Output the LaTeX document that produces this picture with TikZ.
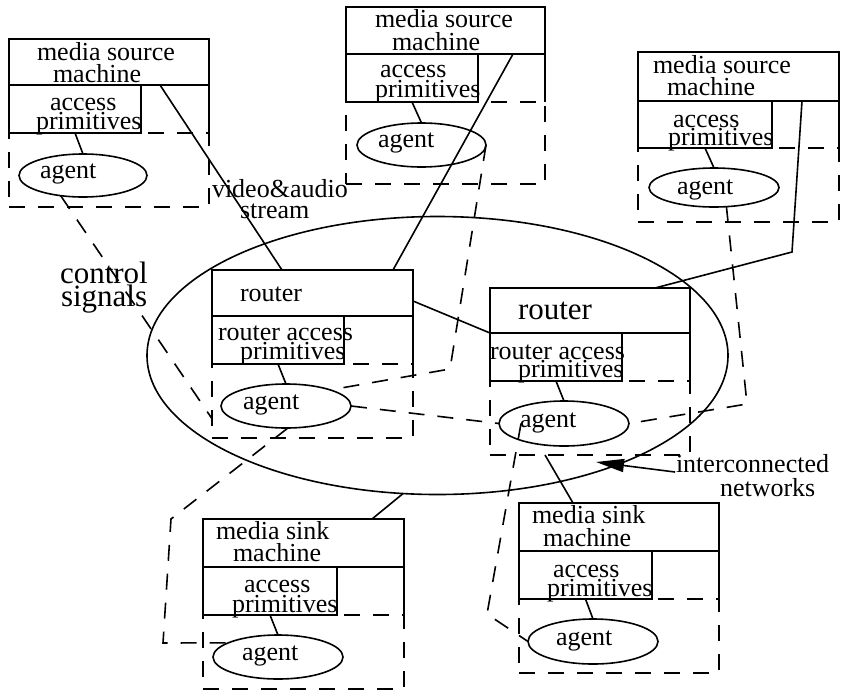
\documentclass[tikz,border=0pt]{standalone}
\usepackage{fontspec}
\setmainfont{Liberation Serif}
\usetikzlibrary{shapes.geometric,arrows.meta}
\newcommand\machineunit[8]{%
  \node[solidbox, minimum width=#4pt, minimum height=#5pt] (#1-m) at (#2,#3) {};
  \node[solidbox, minimum width=#6pt, minimum height=#7pt] (#1-p) at (#1-m.south west) {};
  \node[dashbox, minimum width=#4pt, minimum height=#8pt] (#1-d) at (#1-p.south west) {};
  \draw (#1-m.south east) -- (#1-d.north east);
}
\begin{document}
\begin{tikzpicture}[x=1pt,y=-1pt,line width=1.6pt,
  solidbox/.style={draw, rectangle, anchor=north west, inner sep=0pt, outer sep=0pt},
  dashbox/.style={draw, rectangle, anchor=north west, inner sep=0pt, outer sep=0pt, dash pattern=on 16pt off 13pt},
  agentell/.style={draw, ellipse, inner sep=0pt, outer sep=0pt},
  dashline/.style={dash pattern=on 16pt off 13pt},
  txt/.style={inner sep=0pt, outer sep=0pt, anchor=base west, font=\fontsize{26}{26}\selectfont},
  bigtxt/.style={txt, font=\fontsize{31}{31}\selectfont},
]
\fill[white] (0,0) rectangle (842,691);
\useasboundingbox (0,0) rectangle (842,691);

% network ellipse
\node[draw, ellipse, minimum width=581pt, minimum height=278pt, inner sep=0pt, outer sep=0pt] (net) at (437.5,355.5) {};

% units
\machineunit{tl}{9}{39}{200}{46}{132}{48}{74}
\node[agentell, minimum width=128pt, minimum height=43pt] (tl-a) at (83,175.5) {};
\draw (tl-p.south) -- (tl-a.north);

\machineunit{tm}{346}{7}{199}{47}{132}{48}{82}
\node[agentell, minimum width=129pt, minimum height=44pt] (tm-a) at (421.5,145) {};
\draw (tm-p.south) -- (tm-a.north);

\machineunit{tr}{638}{52}{201}{49}{134}{47}{74}
\node[agentell, minimum width=130pt, minimum height=39pt] (tr-a) at (714,187.5) {};
\draw (tr-p.south) -- (tr-a.north);

\machineunit{lr}{212}{270}{201}{46}{132}{48}{74}
\node[agentell, minimum width=130pt, minimum height=44pt] (lr-a) at (286,406) {};
\draw (lr-p.south) -- (lr-a.north);

\machineunit{rr}{490}{288}{200}{45}{132}{48}{74}
\node[agentell, minimum width=130pt, minimum height=45pt] (rr-a) at (564,423.5) {};
\draw (rr-p.south) -- (rr-a.north);

\machineunit{bl}{203}{519}{201}{48}{134}{48}{74}
\node[agentell, minimum width=130pt, minimum height=44pt] (bl-a) at (278,657) {};
\draw (bl-p.south) -- (bl-a.north);

\machineunit{br}{519}{503}{200}{48}{133}{48}{74}
\node[agentell, minimum width=130pt, minimum height=45pt] (br-a) at (593,641.5) {};
\draw (br-p.south) -- (br-a.north);

% texts
\node[txt] (tl-t1) at (37,60) {media source};
\node[txt] (tl-t2) at (53,82) {machine};
\node[txt] (tl-t3) at (50,110) {access};
\node[txt] (tl-t4) at (36,129) {primitives};
\node[txt] (tl-at) at (40,178) {agent};

\node[txt] (tm-t1) at (375,27) {media source};
\node[txt] (tm-t2) at (392,50) {machine};
\node[txt] (tm-t3) at (380,77) {access};
\node[txt] (tm-t4) at (375,97) {primitives};
\node[txt] (tm-at) at (378,147) {agent};

\node[txt] (tr-t1) at (653,73) {media source};
\node[txt] (tr-t2) at (667,95) {machine};
\node[txt] (tr-t3) at (673,127) {access};
\node[txt] (tr-t4) at (668,145) {primitives};
\node[txt] (tr-at) at (677,194) {agent};

\node[txt] (lr-t1) at (240,301) {router};
\node[txt] (lr-t3) at (218,340) {router access};
\node[txt] (lr-t4) at (240,359) {primitives};
\node[txt] (lr-at) at (243,409) {agent};

\node[bigtxt] (rr-t1) at (518,319) {router};
\node[txt] (rr-t3) at (490,359) {router access};
\node[txt] (rr-t4) at (518,377) {primitives};
\node[txt] (rr-at) at (520,427) {agent};

\node[txt] (bl-t1) at (216,539) {media sink};
\node[txt] (bl-t2) at (233,561) {machine};
\node[txt] (bl-t3) at (244,592) {access};
\node[txt] (bl-t4) at (232,612) {primitives};
\node[txt] (bl-at) at (242,660) {agent};

\node[txt] (br-t1) at (532,523) {media sink};
\node[txt] (br-t2) at (543,546) {machine};
\node[txt] (br-t3) at (553,577) {access};
\node[txt] (br-t4) at (547,596) {primitives};
\node[txt] (br-at) at (556,645) {agent};

\node[txt] (vid1) at (212,197) {video\&audio};
\node[txt] (vid2) at (240,218) {stream};
\node[bigtxt] (ctl1) at (60,283) {control};
\node[bigtxt] (ctl2) at (61,306) {signals};
\node[txt] (int1) at (676,472) {interconnected};
\node[txt] (int2) at (720,496) {networks};

% solid connectors
\coordinate (c-tr2) at (792,252);
\draw ([xshift=51pt]tl-m.south) -- ([xshift=-30.5pt]lr-m.north);
\draw ([xshift=67.5pt]tm-m.south) -- ([xshift=80.5pt]lr-m.north);
\draw ([xshift=63.5pt]tr-m.south) -- (c-tr2) -- ([xshift=65pt]rr-m.north);
\draw ([yshift=-8pt]lr-m.east) -- (rr-m.south west);
\draw (net.256) -- ([xshift=68.5pt]bl-m.north);
\draw ([xshift=-45pt]rr-d.south) -- ([xshift=-46pt]br-m.north);

% arrow
\coordinate (nettip) at (596,462);
\draw[-{Triangle[length=28pt,width=13pt]}] ([xshift=-1pt]int1.base west) -- (nettip);

% control signal connectors (dashed)
\coordinate (c-tm) at (450,369);
\coordinate (c-tr) at (747,404);
\coordinate (c-bl1) at (171,519);
\coordinate (c-bl2) at (163,643);
\coordinate (c-br) at (487,614);
\draw[dashline] (tl-a.222) -- (lr-d.190);
\draw[dashline] (tm-a.east) -- (c-tm) -- (lr-a.20);
\draw[dashline] (lr-a.east) -- (rr-a.west);
\draw[dashline] (tr-a.303) -- (c-tr) -- (rr-a.east);
\draw[dashline] (lr-a.275) -- (c-bl1) -- (c-bl2) -- (bl-a.164);
\draw[dashline] ([xshift=22pt]rr-a.west) -- (c-br) -- (br-a.west);
\end{tikzpicture}
\end{document}
